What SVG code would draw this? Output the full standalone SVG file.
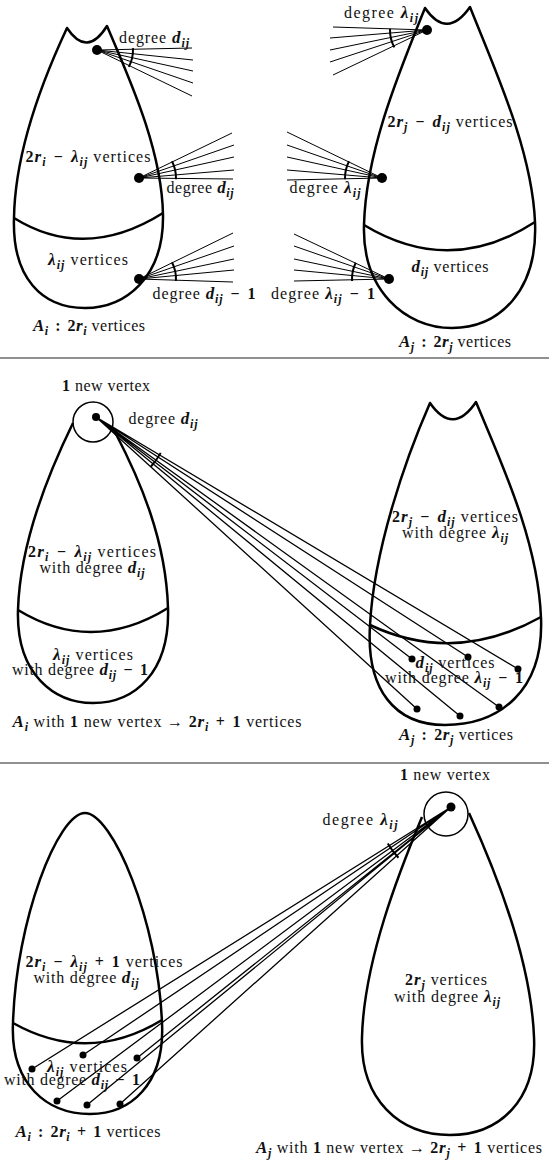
<svg xmlns="http://www.w3.org/2000/svg" width="549" height="1162" viewBox="0 0 549 1162">
<style>
.t{font-family:"Liberation Serif","DejaVu Serif",serif;font-size:16px;fill:#111;text-anchor:middle}
.b{font-weight:bold}
.bi{font-weight:bold;font-style:italic;font-size:17px}
.s{font-size:12px}
.shape{fill:none;stroke:#000;stroke-width:2.5;stroke-linejoin:round}
.fan{fill:none;stroke:#000;stroke-width:1}
.long{fill:none;stroke:#000;stroke-width:1.3}
.arc{fill:none;stroke:#000;stroke-width:2}
.sep{stroke:#222;stroke-width:1.2}
.ring{fill:none;stroke:#000;stroke-width:1.5}
</style>
<rect width="549" height="1162" fill="#fff"/>

<line class="sep" x1="0" y1="358" x2="549" y2="358"/>
<line class="sep" x1="0" y1="763" x2="549" y2="763"/>

<g id="connectors">
  <path class="fan" d="M97,50L192,48M97,50L193,60M97,50L193,71M97,50L193,83M97,50L192,96"/>
  <path class="arc" d="M132.95,48.12A36,36 0 0 1 128.79,66.9"/>
  <path class="fan" d="M139,178L232,133M139,178L234,145M139,178L234,157M139,178L234,170M139,178L233,179"/>
  <path class="arc" d="M171.97,161.2A37,37 0 0 1 175.98,179.29"/>
  <path class="fan" d="M139,279L233,233M139,279L234,246M139,279L234,259M139,279L234,270M139,279L233,282"/>
  <path class="arc" d="M171.97,262.2A37,37 0 0 1 175.95,280.94"/>
  <path class="fan" d="M427,30L333,27M427,30L330,38M427,30L330,50M427,30L330,62M427,30L333,75"/>
  <path class="arc" d="M390.02,28.71A37,37 0 0 0 394.33,47.37"/>
  <path class="fan" d="M382,178L287,132M382,178L287,145M382,178L287,157M382,178L287,170M382,178L287,180"/>
  <path class="arc" d="M349.03,161.2A37,37 0 0 0 345.02,179.29"/>
  <path class="fan" d="M389,279L294,234M389,279L294,246M389,279L294,259M389,279L294,270M389,279L294,281"/>
  <path class="arc" d="M355.74,262.78A37,37 0 0 0 352.05,280.94"/>
  <path class="long" d="M96,417L412,659M96,417L468,657M96,417L518,669M96,417L417,709M96,417L460,716M96,417L499,707"/>
  <path class="arc" d="M160.72,452.88A74,74 0 0 1 150.99,466.52"/>
  <path class="long" d="M451,807L32,1069M451,807L83,1055M451,807L137,1058M451,807L57,1101M451,807L87,1105M451,807L120,1104"/>
  <path class="arc" d="M398.49,857.71A73,73 0 0 1 387.78,843.5"/>
</g>

<g id="p1-Ai">
  <path class="shape" d="M67,28Q87,58 107,26C130,80 162,150 163,215C164,278 125,308 85,308C42,308 12,278 14,218C15,150 45,75 67,28Z"/>
  <path class="shape" d="M14,218Q85,262 163,213"/>
  <circle cx="97" cy="50" r="5"/>
  <circle cx="139" cy="178" r="5"/>
  <circle cx="139" cy="279" r="5"/>
  <text class="t" x="154" y="43" textLength="70" lengthAdjust="spacing">degree <tspan class="bi">d</tspan><tspan class="bi s" dy="4">ij</tspan></text>
  <text class="t" x="88" y="162" textLength="125" lengthAdjust="spacing"><tspan class="b">2</tspan><tspan class="bi">r</tspan><tspan class="bi s" dy="4">i</tspan><tspan class="b" dx="2" dy="-4"> − </tspan><tspan class="bi" dx="2">λ</tspan><tspan class="bi s" dy="4">ij</tspan><tspan dy="-4"> vertices</tspan></text>
  <text class="t" x="200" y="193" textLength="67" lengthAdjust="spacing">degree <tspan class="bi">d</tspan><tspan class="bi s" dy="4">ij</tspan></text>
  <text class="t" x="88" y="265" textLength="80" lengthAdjust="spacing"><tspan class="bi">λ</tspan><tspan class="bi s" dy="4">ij</tspan><tspan dy="-4"> vertices</tspan></text>
  <text class="t" x="204" y="299" textLength="103" lengthAdjust="spacing">degree <tspan class="bi">d</tspan><tspan class="bi s" dy="4">ij</tspan><tspan class="b" dx="2" dy="-4"> − </tspan><tspan class="b" dx="2">1</tspan></text>
  <text class="t" x="89" y="331" textLength="112" lengthAdjust="spacing"><tspan class="bi">A</tspan><tspan class="bi s" dy="4">i</tspan><tspan class="b" dx="2" dy="-4"> : </tspan><tspan class="b" dx="2">2</tspan><tspan class="bi">r</tspan><tspan class="bi s" dy="4">i</tspan><tspan dy="-4"> vertices</tspan></text>
</g>

<g id="p1-Aj">
  <path class="shape" d="M425,8Q447,40 470,7C495,70 532,150 535,222C538,290 500,328 452,328C405,328 362,290 364,225C366,150 400,70 425,8Z"/>
  <path class="shape" d="M364,225Q450,277 535,222"/>
  <circle cx="427" cy="30" r="5"/>
  <circle cx="382" cy="178" r="5"/>
  <circle cx="389" cy="279" r="5"/>
  <text class="t" x="381" y="18" textLength="74" lengthAdjust="spacing">degree <tspan class="bi">λ</tspan><tspan class="bi s" dy="4">ij</tspan></text>
  <text class="t" x="450" y="127" textLength="125" lengthAdjust="spacing"><tspan class="b">2</tspan><tspan class="bi">r</tspan><tspan class="bi s" dy="4">j</tspan><tspan class="b" dx="2" dy="-4"> − </tspan><tspan class="bi" dx="2">d</tspan><tspan class="bi s" dy="4">ij</tspan><tspan dy="-4"> vertices</tspan></text>
  <text class="t" x="325" y="193" textLength="71" lengthAdjust="spacing">degree <tspan class="bi">λ</tspan><tspan class="bi s" dy="4">ij</tspan></text>
  <text class="t" x="450" y="272" textLength="77" lengthAdjust="spacing"><tspan class="bi">d</tspan><tspan class="bi s" dy="4">ij</tspan><tspan dy="-4"> vertices</tspan></text>
  <text class="t" x="323" y="299" textLength="104" lengthAdjust="spacing">degree <tspan class="bi">λ</tspan><tspan class="bi s" dy="4">ij</tspan><tspan class="b" dx="2" dy="-4"> − </tspan><tspan class="b" dx="2">1</tspan></text>
  <text class="t" x="455" y="347" textLength="112" lengthAdjust="spacing"><tspan class="bi">A</tspan><tspan class="bi s" dy="4">j</tspan><tspan class="b" dx="2" dy="-4"> : </tspan><tspan class="b" dx="2">2</tspan><tspan class="bi">r</tspan><tspan class="bi s" dy="4">j</tspan><tspan dy="-4"> vertices</tspan></text>
</g>

<g id="p2-new">
  <circle class="ring" cx="93" cy="422" r="20"/>
  <circle cx="96" cy="417" r="4"/>
  <text class="t" x="106" y="391" textLength="88" lengthAdjust="spacing"><tspan class="b">1</tspan> new vertex</text>
  <text class="t" x="163" y="424" textLength="69" lengthAdjust="spacing">degree <tspan class="bi">d</tspan><tspan class="bi s" dy="4">ij</tspan></text>
</g>

<g id="p2-Ai">
  <path class="shape" d="M73,423C50,470 20,540 18,610C16,675 55,703 93,703C135,703 170,672 168,608C166,540 140,480 115,432"/>
  <path class="shape" d="M18,610Q92,655 168,608"/>
  <text class="t" x="92" y="557" textLength="128" lengthAdjust="spacing"><tspan class="b">2</tspan><tspan class="bi">r</tspan><tspan class="bi s" dy="4">i</tspan><tspan class="b" dx="2" dy="-4"> − </tspan><tspan class="bi" dx="2">λ</tspan><tspan class="bi s" dy="4">ij</tspan><tspan dy="-4"> vertices</tspan></text>
  <text class="t" x="92" y="573" textLength="105" lengthAdjust="spacing">with degree <tspan class="bi">d</tspan><tspan class="bi s" dy="4">ij</tspan></text>
  <text class="t" x="93" y="660" textLength="80" lengthAdjust="spacing"><tspan class="bi">λ</tspan><tspan class="bi s" dy="4">ij</tspan><tspan dy="-4"> vertices</tspan></text>
  <text class="t" x="80" y="675" textLength="136" lengthAdjust="spacing">with degree <tspan class="bi">d</tspan><tspan class="bi s" dy="4">ij</tspan><tspan class="b" dx="2" dy="-4"> − </tspan><tspan class="b" dx="2">1</tspan></text>
  <text class="t" x="157" y="727" textLength="289" lengthAdjust="spacing"><tspan class="bi">A</tspan><tspan class="bi s" dy="4">i</tspan><tspan dy="-4"> with </tspan><tspan class="b">1</tspan> new vertex → <tspan class="b">2</tspan><tspan class="bi">r</tspan><tspan class="bi s" dy="4">i</tspan><tspan class="b" dx="2" dy="-4"> + </tspan><tspan class="b" dx="2">1</tspan> vertices</text>
</g>

<g id="p2-Aj">
  <path class="shape" d="M430,403Q453,436 476,402C500,460 538,540 541,618C544,690 500,725 445,725C395,725 366,690 370,625C374,550 405,460 430,403Z"/>
  <path class="shape" d="M370,625Q455,665 541,617"/>
  <circle cx="412" cy="659" r="3.5"/>
  <circle cx="468" cy="657" r="3.5"/>
  <circle cx="518" cy="669" r="3.5"/>
  <circle cx="417" cy="709" r="3.5"/>
  <circle cx="460" cy="716" r="3.5"/>
  <circle cx="499" cy="707" r="3.5"/>
  <text class="t" x="455" y="522" textLength="126" lengthAdjust="spacing"><tspan class="b">2</tspan><tspan class="bi">r</tspan><tspan class="bi s" dy="4">j</tspan><tspan class="b" dx="2" dy="-4"> − </tspan><tspan class="bi" dx="2">d</tspan><tspan class="bi s" dy="4">ij</tspan><tspan dy="-4"> vertices</tspan></text>
  <text class="t" x="455" y="538" textLength="106" lengthAdjust="spacing">with degree <tspan class="bi">λ</tspan><tspan class="bi s" dy="4">ij</tspan></text>
  <text class="t" x="455" y="668" textLength="79" lengthAdjust="spacing"><tspan class="bi">d</tspan><tspan class="bi s" dy="4">ij</tspan><tspan dy="-4"> vertices</tspan></text>
  <text class="t" x="454" y="683" textLength="138" lengthAdjust="spacing">with degree <tspan class="bi">λ</tspan><tspan class="bi s" dy="4">ij</tspan><tspan class="b" dx="2" dy="-4"> − </tspan><tspan class="b" dx="2">1</tspan></text>
  <text class="t" x="456" y="740" textLength="114" lengthAdjust="spacing"><tspan class="bi">A</tspan><tspan class="bi s" dy="4">j</tspan><tspan class="b" dx="2" dy="-4"> : </tspan><tspan class="b" dx="2">2</tspan><tspan class="bi">r</tspan><tspan class="bi s" dy="4">j</tspan><tspan dy="-4"> vertices</tspan></text>
</g>

<g id="p3-Ai">
  <path class="shape" d="M85,813C112,813 158,920 162,1023C165,1085 130,1114 90,1114C48,1114 10,1085 13,1023C16,920 58,813 85,813Z"/>
  <path class="shape" d="M13,1023Q88,1065 162,1020"/>
  <circle cx="32" cy="1069" r="3.5"/>
  <circle cx="83" cy="1055" r="3.5"/>
  <circle cx="137" cy="1058" r="3.5"/>
  <circle cx="57" cy="1101" r="3.5"/>
  <circle cx="87" cy="1105" r="3.5"/>
  <circle cx="120" cy="1104" r="3.5"/>
  <text class="t" x="104" y="967" textLength="157" lengthAdjust="spacing"><tspan class="b">2</tspan><tspan class="bi">r</tspan><tspan class="bi s" dy="4">i</tspan><tspan class="b" dx="2" dy="-4"> − </tspan><tspan class="bi" dx="2">λ</tspan><tspan class="bi s" dy="4">ij</tspan><tspan class="b" dx="2" dy="-4"> + </tspan><tspan class="b" dx="2">1</tspan> vertices</text>
  <text class="t" x="86" y="983" textLength="105" lengthAdjust="spacing">with degree <tspan class="bi">d</tspan><tspan class="bi s" dy="4">ij</tspan></text>
  <text class="t" x="87" y="1072" textLength="80" lengthAdjust="spacing"><tspan class="bi">λ</tspan><tspan class="bi s" dy="4">ij</tspan><tspan dy="-4"> vertices</tspan></text>
  <text class="t" x="72" y="1085" textLength="136" lengthAdjust="spacing">with degree <tspan class="bi">d</tspan><tspan class="bi s" dy="4">ij</tspan><tspan class="b" dx="2" dy="-4"> − </tspan><tspan class="b" dx="2">1</tspan></text>
  <text class="t" x="88" y="1137" textLength="145" lengthAdjust="spacing"><tspan class="bi">A</tspan><tspan class="bi s" dy="4">i</tspan><tspan class="b" dx="2" dy="-4"> : </tspan><tspan class="b" dx="2">2</tspan><tspan class="bi">r</tspan><tspan class="bi s" dy="4">i</tspan><tspan class="b" dx="2" dy="-4"> + </tspan><tspan class="b" dx="2">1</tspan> vertices</text>
</g>

<g id="p3-new">
  <circle class="ring" cx="446" cy="814" r="22"/>
  <circle cx="451" cy="807" r="4.5"/>
  <text class="t" x="445" y="780" textLength="90" lengthAdjust="spacing"><tspan class="b">1</tspan> new vertex</text>
  <text class="t" x="360" y="825" textLength="75" lengthAdjust="spacing">degree <tspan class="bi">λ</tspan><tspan class="bi s" dy="4">ij</tspan></text>
</g>

<g id="p3-Aj">
  <path class="shape" d="M422,817C400,870 364,960 362,1037C360,1100 400,1135 450,1135C500,1135 537,1100 534,1037C531,960 495,870 469,813"/>
  <text class="t" x="446" y="985" textLength="82" lengthAdjust="spacing"><tspan class="b">2</tspan><tspan class="bi">r</tspan><tspan class="bi s" dy="4">j</tspan><tspan dy="-4"> vertices</tspan></text>
  <text class="t" x="447" y="1002" textLength="106" lengthAdjust="spacing">with degree <tspan class="bi">λ</tspan><tspan class="bi s" dy="4">ij</tspan></text>
  <text class="t" x="399" y="1153" textLength="286" lengthAdjust="spacing"><tspan class="bi">A</tspan><tspan class="bi s" dy="4">j</tspan><tspan dy="-4"> with </tspan><tspan class="b">1</tspan> new vertex → <tspan class="b">2</tspan><tspan class="bi">r</tspan><tspan class="bi s" dy="4">j</tspan><tspan class="b" dx="2" dy="-4"> + </tspan><tspan class="b" dx="2">1</tspan> vertices</text>
</g>
</svg>
